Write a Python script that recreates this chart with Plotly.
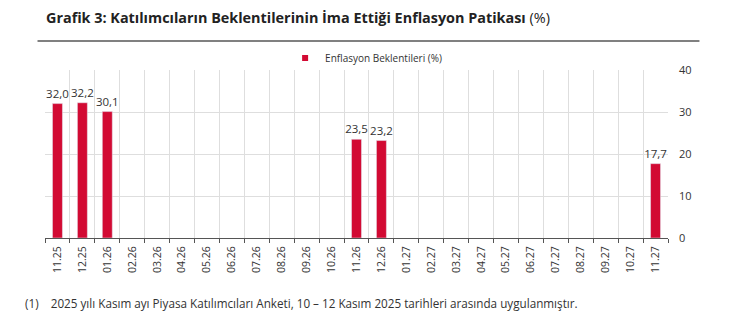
import plotly.graph_objects as go

categories = ["11.25", "12.25", "01.26", "02.26", "03.26", "04.26", "05.26", "06.26", "07.26",
              "08.26", "09.26", "10.26", "11.26", "12.26", "01.27", "02.27", "03.27", "04.27",
              "05.27", "06.27", "07.27", "08.27", "09.27", "10.27", "11.27"]
values = [32.0, 32.2, 30.1, None, None, None, None, None, None, None, None, None, 23.5, 23.2,
          None, None, None, None, None, None, None, None, None, None, 17.7]
series_name = "Enflasyon Beklentileri (%)"
y_ticks = [0, 10, 20, 30, 40]

labels = [("" if v is None else f"{v:.1f}".replace(".", ",")) for v in values]

W, H = 750, 325
L, R, T, B = 44.5, 668.5, 70, 238
pw, ph = R - L, B - T

def px(x):
    return (x - L) / pw

def py(y):
    return (B - y) / ph

font = "Open Sans"
red = "#D20A33"

fig = go.Figure()
fig.add_trace(go.Bar(
    x=categories, y=values, name=series_name, marker_color=red, showlegend=False,
    text=labels, textposition="outside", cliponaxis=False, constraintext="none",
    textfont=dict(family=font, size=11.5, color="#333333"),
))
fig.add_trace(go.Scatter(
    x=[None], y=[None], mode="markers", name=series_name,
    marker=dict(symbol="square", size=6, color=red),
))

fig.update_layout(
    width=W, height=H,
    margin=dict(l=L, r=W - R, t=T, b=H - B, pad=0),
    paper_bgcolor="white", plot_bgcolor="white",
    bargap=0.6,
    showlegend=True,
    legend=dict(orientation="h", x=px(285), y=py(58), xanchor="left", yanchor="middle",
                font=dict(family=font, size=10, color="#333333"), itemwidth=30,
                tracegroupgap=0, bgcolor="rgba(0,0,0,0)"),
    font=dict(family=font, color="#333333"),
    xaxis=dict(type="category", tickson="boundaries", showgrid=True, gridcolor="#dedede",
               gridwidth=1, ticks="outside", ticklen=4, tickcolor="#555555",
               showline=True, linecolor="#555555", linewidth=1,
               tickangle=-90, tickfont=dict(family=font, size=10.5, color="#333333"),
               ticklabelstandoff=3,
               range=[-0.5, len(categories) - 0.5]),
    yaxis=dict(side="right", range=[0, 40], tickvals=y_ticks, showgrid=True,
               gridcolor="#dedede", gridwidth=1, zeroline=False,
               tickfont=dict(family=font, size=11, color="#333333"), ticks="", ticklabelstandoff=10),
)

fig.add_shape(type="line", xref="paper", yref="paper", x0=px(37), x1=px(700), y0=py(41), y1=py(41),
              line=dict(color="#808080", width=2))

fig.add_annotation(xref="paper", yref="paper", x=px(43), y=py(17), xanchor="left", yanchor="middle",
                   showarrow=False,
                   text="<b>Grafik 3: Katılımcıların Beklentilerinin İma Ettiği Enflasyon Patikası</b> (%)",
                   font=dict(family=font, size=14.4, color="#222222"))

fig.add_annotation(xref="paper", yref="paper", x=px(22), y=py(303), xanchor="left", yanchor="middle",
                   showarrow=False,
                   text="(1)    2025 yılı Kasım ayı Piyasa Katılımcıları Anketi, 10 – 12 Kasım 2025 tarihleri arasında uygulanmıştır.",
                   font=dict(family=font, size=11.7, color="#333333"))

fig.write_html("out.html")
